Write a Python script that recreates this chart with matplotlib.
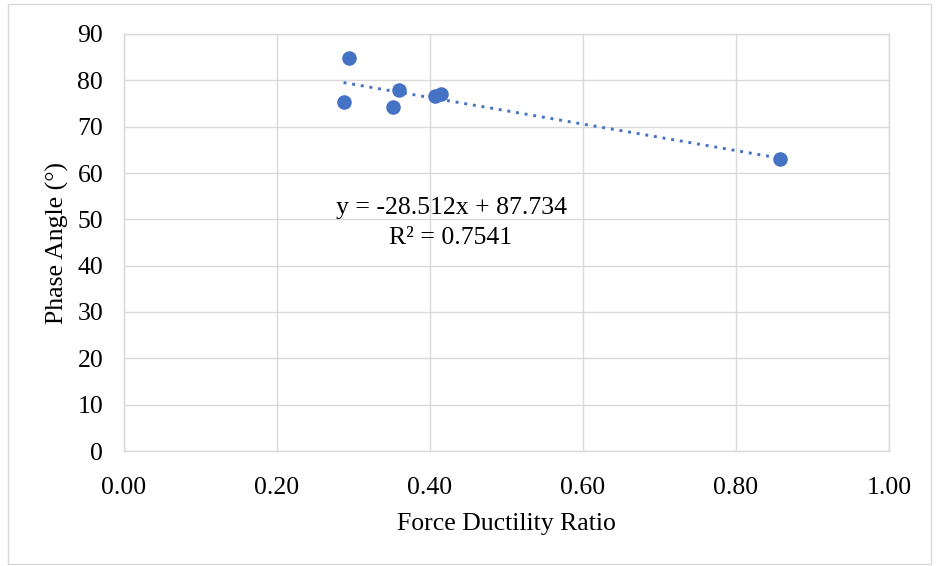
import numpy as np
import matplotlib.pyplot as plt
from matplotlib.patches import Rectangle

plt.rcParams['font.family'] = ['Liberation Serif', 'DejaVu Serif']

# force ductility ratio vs phase angle
ratio = [0.287, 0.2945, 0.360, 0.3516, 0.4065, 0.414, 0.8575]
angle = [75.4, 84.9, 77.9, 74.2, 76.6, 77.0, 63.1]
xticks = [0.0, 0.2, 0.4, 0.6, 0.8, 1.0]
yticks = [0, 10, 20, 30, 40, 50, 60, 70, 80, 90]
eq_text = 'y = -28.512x + 87.734'
r2_text = 'R² = 0.7541'

blue = '#4472C4'
grid = '#D9D9D9'
fs = 18.5

fig = plt.figure(figsize=(9.38, 5.66), dpi=100, facecolor='w')
ax = fig.add_axes([124/938, 1-451/566, 765/938, 417/566])

ax.set_xlim(0, 1)
ax.set_ylim(0, 90)
ax.set_xticks(xticks)
ax.set_yticks(yticks)
ax.set_xticklabels(['%.2f' % t for t in xticks])
ax.grid(True, color=grid, linewidth=1)
ax.set_axisbelow(True)
for s in ax.spines.values():
    s.set_color(grid)
    s.set_linewidth(1)
ax.tick_params(length=0, labelsize=fs)
ax.tick_params(axis='y', pad=15)
ax.tick_params(axis='x', pad=19)

# linear trendline over the data range
k, b = np.polyfit(ratio, angle, 1)
xx = np.array([min(ratio), max(ratio)])
ax.plot(xx, k*xx + b, color=blue, linewidth=2.1, linestyle=(0, (1, 2.0)))
ax.scatter(ratio, angle, s=110, color=blue, zorder=3, linewidths=0)

ax.text(0.4275, 52.45, eq_text, ha='center', va='center', fontsize=fs)
ax.text(0.4275, 46.0, r2_text, ha='center', va='center', fontsize=fs)

ax.set_xlabel('Force Ductility Ratio', fontsize=fs, labelpad=10)
ax.set_ylabel('Phase Angle (°)', fontsize=fs, labelpad=6)

fig.patches.append(Rectangle((8/938, 2/566), 923/938, 560/566, transform=fig.transFigure,
                             fill=False, edgecolor=grid, linewidth=1))

fig.savefig('out.png', dpi=100)
